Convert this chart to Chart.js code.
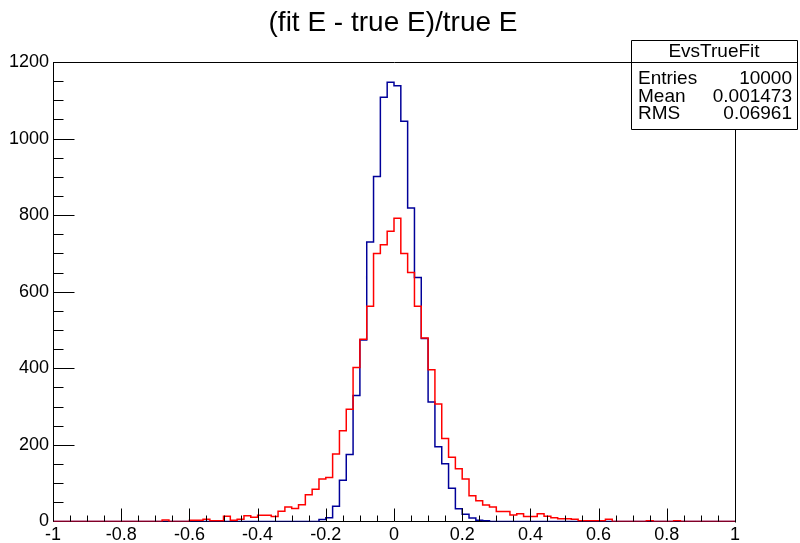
<!DOCTYPE html>
<html>
<head>
<meta charset="utf-8">
<script src="https://cdn.jsdelivr.net/npm/chart.js@4.4.1/dist/chart.umd.min.js"></script>
<style>
  html, body { margin: 0; padding: 0; background: #ffffff; }
  #wrap { width: 800px; height: 543px; }
</style>
</head>
<body>
<div id="wrap"><canvas id="c" width="800" height="543"></canvas></div>
<script>
// Histogram binning: 100 bins of width 0.02 on [-1, 1]
const X_MIN = -1;
const X_MAX = 1;
const N_BINS = 100;
const binLowEdges = Array.from({ length: N_BINS }, (_, i) => +(X_MIN + i * (X_MAX - X_MIN) / N_BINS).toFixed(2));

// EvsTrueFit (blue)
const fitCounts = [
  0, 0, 0, 0, 0, 0, 0, 0, 0, 0,
  0, 0, 0, 0, 0, 0, 0, 0, 0, 0,
  0, 0, 0, 0, 0, 0, 0, 0, 0, 0,
  0, 0, 0, 0, 0, 0, 0, 0, 0, 5,
  10, 40, 108, 175, 329, 474, 730, 901, 1108, 1147,
  1138, 1045, 819, 637, 478, 312, 195, 151, 87, 33,
  19, 9, 3, 2, 0, 0, 0, 0, 0, 0,
  0, 0, 0, 0, 0, 0, 0, 0, 0, 0,
  0, 0, 0, 0, 0, 0, 0, 0, 0, 0,
  0, 0, 0, 0, 0, 0, 0, 0, 0, 0
];

// second distribution (red)
const otherCounts = [
  0, 0, 0, 0, 0, 0, 0, 0, 0, 0,
  0, 0, 0, 0, 0, 0, 4, 0, 0, 0,
  3, 3, 6, 2, 2, 14, 3, 6, 15, 11,
  16, 16, 13, 27, 38, 34, 44, 70, 84, 111,
  115, 176, 237, 293, 402, 476, 562, 700, 723, 758,
  792, 700, 650, 562, 479, 396, 307, 217, 168, 138,
  111, 67, 54, 43, 38, 26, 26, 17, 20, 13,
  13, 20, 14, 10, 7, 7, 6, 2, 2, 2,
  2, 6, 0, 0, 0, 0, 0, 2, 0, 0,
  0, 2, 0, 0, 0, 0, 0, 0, 0, 0
];

const Y_MAX = 1200;
const Y_MAJOR = 200;
const Y_MINOR = 50;
const X_MAJOR = 0.2;
const X_MINOR = 0.05;

const TITLE = '(fit E - true E)/true E';
const statsName = 'EvsTrueFit';
const statsLabels = ['Entries', 'Mean', 'RMS'];
const statsValues = ['10000', '0.001473', '0.06961'];

const FONT = '"Liberation Sans", Arial, Helvetica, sans-serif';

// step outline: one point per low edge, plus the upper edge of the last bin
function stepPoints(counts) {
  const pts = binLowEdges.map((x, i) => ({ x, y: counts[i] }));
  pts.push({ x: X_MAX, y: counts[counts.length - 1] });
  return pts;
}

// frame, inward ROOT-style ticks, title and stats box
const rootDecor = {
  id: 'rootDecor',
  afterDraw(chart) {
    const { ctx, chartArea: a, scales } = chart;
    const xs = scales.x, ys = scales.y;
    const al = v => Math.round(v) + 0.5;
    ctx.save();
    ctx.strokeStyle = '#000000';
    ctx.lineWidth = 1;

    // frame top and right
    ctx.beginPath();
    ctx.moveTo(al(a.left), al(a.top));
    ctx.lineTo(al(a.right), al(a.top));
    ctx.lineTo(al(a.right), al(a.bottom));
    ctx.stroke();

    // y ticks (the one at 0 lies on the histogram baseline)
    ctx.beginPath();
    for (let v = Y_MINOR; v <= Y_MAX + 1e-9; v += Y_MINOR) {
      const py = al(ys.getPixelForValue(v));
      const len = (v % Y_MAJOR === 0) ? 21 : 10;
      ctx.moveTo(al(a.left), py);
      ctx.lineTo(al(a.left) + len, py);
    }
    // x ticks
    const nMinor = Math.round((X_MAX - X_MIN) / X_MINOR);
    const perMajor = Math.round(X_MAJOR / X_MINOR);
    for (let k = 0; k <= nMinor; k++) {
      const v = X_MIN + k * X_MINOR;
      const px = al(xs.getPixelForValue(v));
      const len = (k % perMajor === 0) ? 14 : 7;
      ctx.moveTo(px, al(a.bottom) - 1);
      ctx.lineTo(px, al(a.bottom) - len);
    }
    ctx.stroke();

    // title
    ctx.fillStyle = '#000000';
    ctx.font = '28px ' + FONT;
    ctx.textAlign = 'center';
    ctx.textBaseline = 'middle';
    ctx.fillText(TITLE, 393, 23);

    // stats box
    const bx = 631, by = 40, bw = 166, bh = 89;
    ctx.fillStyle = '#ffffff';
    ctx.fillRect(bx, by, bw, bh);
    ctx.beginPath();
    ctx.rect(al(bx), al(by), bw, bh);
    ctx.moveTo(al(bx), al(62));
    ctx.lineTo(al(bx + bw), al(62));
    ctx.stroke();
    ctx.fillStyle = '#000000';
    ctx.font = '19px ' + FONT;
    ctx.textAlign = 'center';
    ctx.fillText(statsName, bx + bw / 2, 52);
    const rowY = [78.5, 96.5, 113.5];
    statsLabels.forEach((lab, i) => {
      ctx.textAlign = 'left';
      ctx.fillText(lab, 638, rowY[i]);
      ctx.textAlign = 'right';
      ctx.fillText(statsValues[i], 792, rowY[i]);
    });
    ctx.restore();
  }
};

new Chart(document.getElementById('c'), {
  type: 'line',
  data: {
    datasets: [
      {
        label: 'other',
        data: stepPoints(otherCounts),
        stepped: 'before',
        borderColor: '#ff0000',
        borderWidth: 1.5,
        pointRadius: 0,
        fill: false
      },
      {
        label: statsName,
        data: stepPoints(fitCounts),
        stepped: 'before',
        borderColor: '#000099',
        borderWidth: 1.5,
        pointRadius: 0,
        fill: false
      }
    ]
  },
  options: {
    responsive: false,
    animation: false,
    devicePixelRatio: 1,
    layout: { padding: { top: 62, right: 65, left: 0, bottom: 0 } },
    plugins: { legend: { display: false }, tooltip: { enabled: false }, title: { display: false } },
    scales: {
      x: {
        type: 'linear',
        min: X_MIN,
        max: X_MAX,
        afterFit: s => { s.height = 21.5; },
        grid: { display: false, drawTicks: false },
        border: { display: true, color: '#000000', width: 1, z: -1 },
        ticks: {
          stepSize: X_MAJOR,
          padding: 3,
          color: '#000000',
          font: { family: FONT, size: 18 },
          maxRotation: 0,
          autoSkip: false,
          callback: v => String(Math.round(v * 10) / 10)
        }
      },
      y: {
        type: 'linear',
        min: 0,
        max: Y_MAX,
        afterFit: s => { s.width = 53; },
        grid: { display: false, drawTicks: false },
        border: { display: true, color: '#000000', width: 1 },
        ticks: {
          stepSize: Y_MAJOR,
          padding: 4,
          color: '#000000',
          font: { family: FONT, size: 18 },
          autoSkip: false,
          callback: v => String(v)
        }
      }
    }
  },
  plugins: [rootDecor]
});
</script>
</body>
</html>
